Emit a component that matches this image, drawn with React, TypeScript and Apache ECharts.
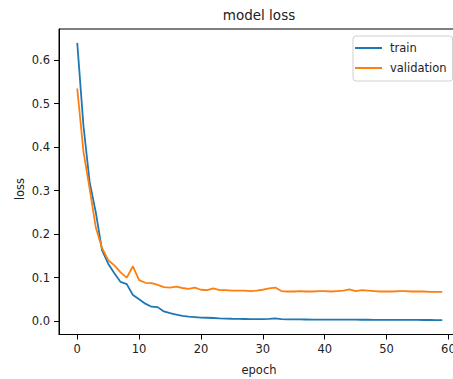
import React, { useEffect, useRef } from "react";
import * as echarts from "echarts";

const epochs: number[] = Array.from({ length: 60 }, (_, i) => i);

const trainLoss: number[] = [
  0.64, 0.45, 0.32, 0.25, 0.163, 0.132, 0.11, 0.09, 0.085, 0.06,
  0.05, 0.04, 0.033, 0.032, 0.022, 0.018, 0.015, 0.012, 0.01, 0.009,
  0.008, 0.0075, 0.007, 0.0062, 0.0056, 0.0052, 0.0049, 0.0047, 0.0045, 0.0043,
  0.0042, 0.005, 0.006, 0.0042, 0.0039, 0.0037, 0.0036, 0.0035, 0.0034, 0.0033,
  0.0032, 0.0032, 0.0031, 0.003, 0.003, 0.003, 0.0029, 0.0029, 0.0028, 0.0028,
  0.0027, 0.0027, 0.0026, 0.0026, 0.0025, 0.0025, 0.0024, 0.0024, 0.0023, 0.0023,
];

const valLoss: number[] = [
  0.535, 0.39, 0.305, 0.215, 0.168, 0.14, 0.128, 0.112, 0.1, 0.126,
  0.094, 0.088, 0.087, 0.083, 0.078, 0.077, 0.079, 0.076, 0.074, 0.077,
  0.072, 0.071, 0.075, 0.071, 0.071, 0.07, 0.07, 0.07, 0.069, 0.07,
  0.072, 0.075, 0.077, 0.069, 0.068, 0.068, 0.069, 0.068, 0.068, 0.069,
  0.069, 0.068, 0.069, 0.07, 0.073, 0.069, 0.071, 0.07, 0.069, 0.068,
  0.068, 0.068, 0.069, 0.069, 0.068, 0.068, 0.068, 0.067, 0.067, 0.067,
];

const xTicks: number[] = [0, 10, 20, 30, 40, 50, 60];
const yTicks: number[] = [0, 0.1, 0.2, 0.3, 0.4, 0.5, 0.6];
const seriesNames: string[] = ["train", "validation"];
const colors: string[] = ["#1f77b4", "#ff7f0e"];

const FONT = "DejaVu Sans";

export default function App() {
  const ref = useRef<HTMLDivElement>(null);
  useEffect(() => {
    if (!ref.current) return;
    const chart = echarts.init(ref.current, undefined, { renderer: "svg" });
    const gridLeft = 59;
    const gridTop = 29;
    const gridWidth = 401.5;
    const gridHeight = 305.5;
    chart.setOption({
      animation: false,
      backgroundColor: "#fff",
      textStyle: { fontFamily: FONT },
      grid: {
        left: gridLeft,
        top: gridTop,
        width: gridWidth,
        height: gridHeight,
        show: true,
        borderColor: "#000",
        borderWidth: 1,
        backgroundColor: "transparent",
        containLabel: false,
      },
      xAxis: {
        type: "value",
        min: -2.95,
        max: 61.95,
        axisLine: { show: true, onZero: false, lineStyle: { color: "#000", width: 1 } },
        axisTick: {
          show: true,
          length: 5,
          lineStyle: { color: "#000", width: 1 },
          customValues: xTicks,
        },
        axisLabel: {
          customValues: xTicks,
          showMinLabel: true,
          showMaxLabel: true,
          hideOverlap: false,
          fontFamily: FONT,
          fontSize: 11.5,
          color: "#222",
          margin: 8,
        },
        splitLine: { show: false },
      },
      yAxis: {
        type: "value",
        min: -0.031,
        max: 0.672,
        axisLine: { show: true, onZero: false, lineStyle: { color: "#000", width: 1 } },
        axisTick: {
          show: true,
          length: 5,
          lineStyle: { color: "#000", width: 1 },
          customValues: yTicks,
        },
        axisLabel: {
          customValues: yTicks,
          fontFamily: FONT,
          fontSize: 11.5,
          color: "#222",
          margin: 9,
          formatter: (v: number) => v.toFixed(1),
        },
        splitLine: { show: false },
      },
      legend: {
        show: true,
        orient: "vertical",
        left: 353,
        top: 36,
        data: seriesNames,
        icon: "rect",
        itemWidth: 27,
        itemHeight: 2,
        itemGap: 6,
        padding: [5, 6, 6, 2],
        backgroundColor: "#fff",
        borderColor: "#d0d0d0",
        borderWidth: 1,
        borderRadius: 3,
        textStyle: {
          fontFamily: FONT,
          fontSize: 11.5,
          color: "#222",
          lineHeight: 14,
          padding: [0, 0, 0, 3],
        },
      },
      graphic: [
        {
          type: "text",
          x: 259,
          y: 15,
          style: {
            text: "model loss",
            fontFamily: FONT,
            fontSize: 13.5,
            fill: "#222",
            textAlign: "center",
            textVerticalAlign: "middle",
          },
        },
        {
          type: "text",
          x: 259,
          y: 370,
          style: {
            text: "epoch",
            fontFamily: FONT,
            fontSize: 11.5,
            fill: "#222",
            textAlign: "center",
            textVerticalAlign: "middle",
          },
        },
        {
          type: "text",
          x: 20,
          y: 189,
          rotation: Math.PI / 2,
          style: {
            text: "loss",
            fontFamily: FONT,
            fontSize: 11.5,
            fill: "#222",
            textAlign: "center",
            textVerticalAlign: "middle",
          },
        },
      ],
      series: [
        {
          name: seriesNames[0],
          type: "line",
          data: epochs.map((e, i) => [e, trainLoss[i]]),
          showSymbol: false,
          symbol: "none",
          lineStyle: { color: colors[0], width: 1.8 },
          itemStyle: { color: colors[0] },
          z: 2,
        },
        {
          name: seriesNames[1],
          type: "line",
          data: epochs.map((e, i) => [e, valLoss[i]]),
          showSymbol: false,
          symbol: "none",
          lineStyle: { color: colors[1], width: 1.8 },
          itemStyle: { color: colors[1] },
          z: 3,
        },
      ],
    });
    return () => chart.dispose();
  }, []);
  return (
    <div
      style={{
        position: "fixed",
        left: 0,
        top: 0,
        width: 453,
        height: 379,
        overflow: "hidden",
        background: "#fff",
      }}
    >
      <div ref={ref} style={{ width: 475, height: 379 }} />
    </div>
  );
}
